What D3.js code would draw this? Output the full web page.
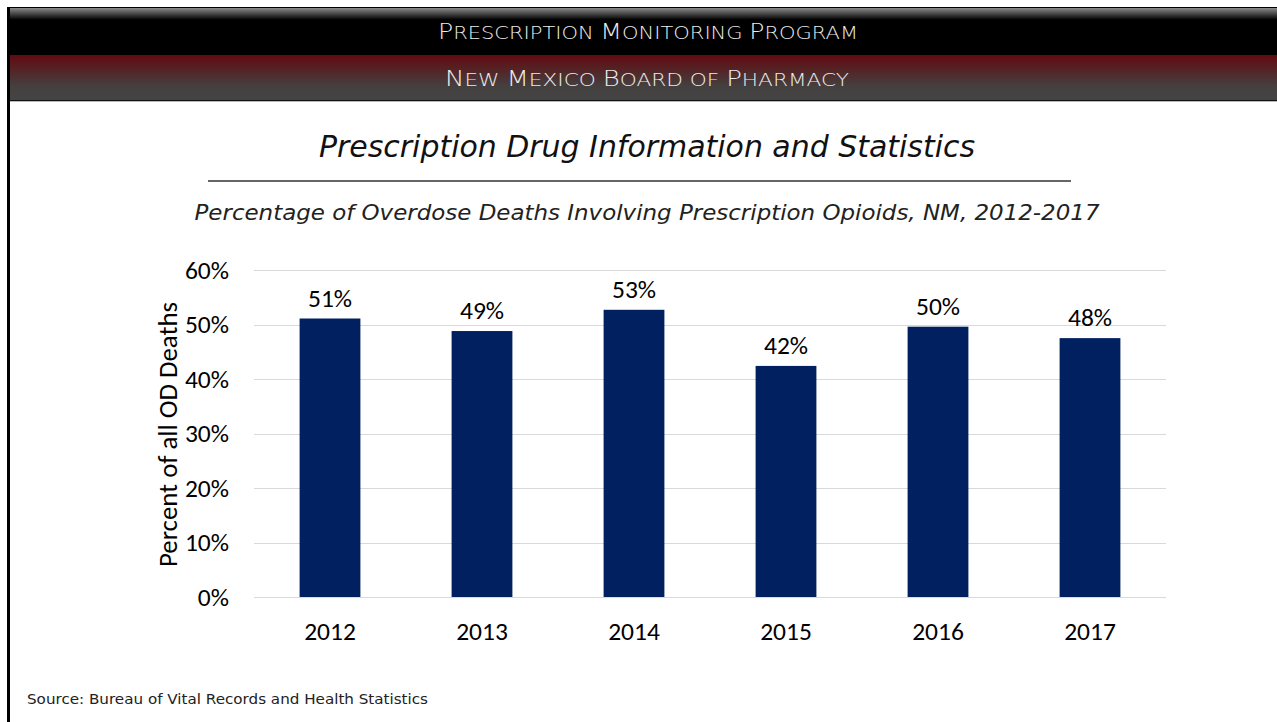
<!DOCTYPE html>
<html><head><meta charset="utf-8">
<script src="https://cdn.jsdelivr.net/npm/d3@7"></script>
<style>
html,body{margin:0;padding:0;background:#fff;}
svg{display:block;}
</style></head>
<body>
<svg id="c" width="1277" height="722"></svg>
<script>
const headerLine1 = "Prescription Monitoring Program";
const headerLine2 = "New Mexico Board of Pharmacy";
const pageTitle = "Prescription Drug Information and Statistics";
const chartTitle = "Percentage of Overdose Deaths Involving Prescription Opioids, NM, 2012-2017";
const yAxisTitle = "Percent of all OD Deaths";
const sourceText = "Source: Bureau of Vital Records and Health Statistics";
const years = ["2012","2013","2014","2015","2016","2017"];
const values = [51.1, 48.8, 52.7, 42.4, 49.6, 47.5];
const dataLabels = ["51%","49%","53%","42%","50%","48%"];
const yTicks = [0,10,20,30,40,50,60];

const svg = d3.select("#c");
const defs = svg.append("defs");
const g1 = defs.append("linearGradient").attr("id","gTop").attr("x1",0).attr("y1",0).attr("x2",0).attr("y2",1);
g1.append("stop").attr("offset","0").attr("stop-color","#8a8a8a");
g1.append("stop").attr("offset","0.25").attr("stop-color","#000");
g1.append("stop").attr("offset","1").attr("stop-color","#000");
const g2 = defs.append("linearGradient").attr("id","gRed").attr("x1",0).attr("y1",0).attr("x2",0).attr("y2",1);
g2.append("stop").attr("offset","0").attr("stop-color","#620b10");
g2.append("stop").attr("offset","0.7").attr("stop-color","#444040");
g2.append("stop").attr("offset","1").attr("stop-color","#444");

// header
svg.append("rect").attr("x",8).attr("y",8).attr("width",1269).attr("height",47).attr("fill","url(#gTop)");
svg.append("rect").attr("x",8).attr("y",55).attr("width",1269).attr("height",45).attr("fill","url(#gRed)");
svg.append("line").attr("x1",8).attr("x2",1277).attr("y1",100.5).attr("y2",100.5).attr("stroke","#111").attr("stroke-width",1);
svg.append("line").attr("x1",8).attr("x2",1277).attr("y1",101.5).attr("y2",101.5).attr("stroke","#bbb").attr("stroke-width",1);
svg.append("line").attr("x1",8).attr("x2",1277).attr("y1",7.5).attr("y2",7.5).attr("stroke","#000").attr("stroke-width",1);
// left border
svg.append("rect").attr("x",7).attr("y",7).attr("width",3).attr("height",715).attr("fill","#000");

const hdrFont = "'DejaVu Sans', 'Noto Sans', sans-serif";
function smallCaps(sel, str, big, small){
  // split into runs of uppercase vs lowercase chars, render lowercase as reduced capitals
  const runs = [];
  for (const ch of str){
    const isBig = ch !== ch.toLowerCase();
    if (runs.length && runs[runs.length-1].big === isBig) runs[runs.length-1].t += ch;
    else runs.push({big:isBig, t:ch});
  }
  runs.forEach(r => sel.append("tspan").style("font-size",(r.big?big:small)+"px").text(r.t.toUpperCase()));
}
const h1 = svg.append("text").attr("x",648).attr("y",39).attr("text-anchor","middle")
  .attr("fill","#ececec").style("font-family",hdrFont).style("font-weight","300")
  .attr("textLength",420).attr("lengthAdjust","spacingAndGlyphs");
smallCaps(h1, headerLine1, 21, 17.5);
const h2 = svg.append("text").attr("x",647).attr("y",86).attr("text-anchor","middle")
  .attr("fill","#ececec").style("font-family",hdrFont).style("font-weight","300")
  .attr("textLength",404).attr("lengthAdjust","spacingAndGlyphs");
smallCaps(h2, headerLine2, 21, 17.5);

// title
svg.append("text").attr("x",647).attr("y",157).attr("text-anchor","middle")
  .style("font-family","'DejaVu Sans', sans-serif").style("font-style","italic").style("font-size","30px")
  .attr("fill","#111").attr("textLength",656).attr("lengthAdjust","spacingAndGlyphs").text(pageTitle);
svg.append("line").attr("x1",208).attr("x2",1071).attr("y1",181).attr("y2",181).attr("stroke","#666").attr("stroke-width",2);
svg.append("text").attr("x",647).attr("y",220).attr("text-anchor","middle")
  .style("font-family","'DejaVu Sans', sans-serif").style("font-style","italic").style("font-size","21px")
  .attr("fill","#222").attr("textLength",905).attr("lengthAdjust","spacingAndGlyphs").text(chartTitle);

// chart
const pLeft = 254, pRight = 1166, pTop = 270, pBottom = 597;
const x = d3.scaleBand().domain(years).range([pLeft,pRight]).paddingInner(0.6).paddingOuter(0.3);
const y = d3.scaleLinear().domain([0,60]).range([pBottom,pTop]);
const cFont = "Carlito, Calibri, Lato, 'Liberation Sans', sans-serif";
const fs = "25.5px";

const grid = svg.append("g");
grid.selectAll("line").data(yTicks).join("line")
  .attr("x1",pLeft).attr("x2",pRight)
  .attr("y1",d=>Math.round(y(d))+0.5).attr("y2",d=>Math.round(y(d))+0.5)
  .attr("stroke","#d9d9d9").attr("stroke-width",1);

const yAxis = d3.axisLeft(y).tickValues(yTicks).tickFormat(d=>d+"%").tickSize(0).tickPadding(25);
const ya = svg.append("g").attr("transform",`translate(${pLeft},0)`).call(yAxis);
ya.select(".domain").remove();
ya.selectAll("text").style("font-family",cFont).style("font-size",fs).attr("fill","#000");

const xAxis = d3.axisBottom(x).tickSize(0).tickPadding(25);
const xa = svg.append("g").attr("transform",`translate(0,${pBottom})`).call(xAxis);
xa.select(".domain").remove();
xa.selectAll("text").style("font-family",cFont).style("font-size",fs).attr("fill","#000");

svg.append("g").selectAll("rect").data(years).join("rect")
  .attr("x",d=>x(d)).attr("width",x.bandwidth())
  .attr("y",(d,i)=>y(values[i])).attr("height",(d,i)=>pBottom-y(values[i]))
  .attr("fill","#002060");

svg.append("g").selectAll("text").data(years).join("text")
  .attr("x",d=>x(d)+x.bandwidth()/2).attr("y",(d,i)=>y(values[i])-12)
  .attr("text-anchor","middle").style("font-family",cFont).style("font-size",fs).attr("fill","#000")
  .text((d,i)=>dataLabels[i]);

svg.append("text").attr("transform",`translate(177,${(pTop+pBottom)/2+1}) rotate(-90)`)
  .attr("text-anchor","middle").style("font-family",cFont).style("font-size","26px").attr("fill","#000")
  .attr("textLength",265).attr("lengthAdjust","spacingAndGlyphs")
  .text(yAxisTitle);

svg.append("text").attr("x",27).attr("y",704)
  .style("font-family","'DejaVu Sans', sans-serif").style("font-size","14px").attr("fill","#222")
  .attr("textLength",401).attr("lengthAdjust","spacingAndGlyphs").text(sourceText);
</script>
</body></html>
